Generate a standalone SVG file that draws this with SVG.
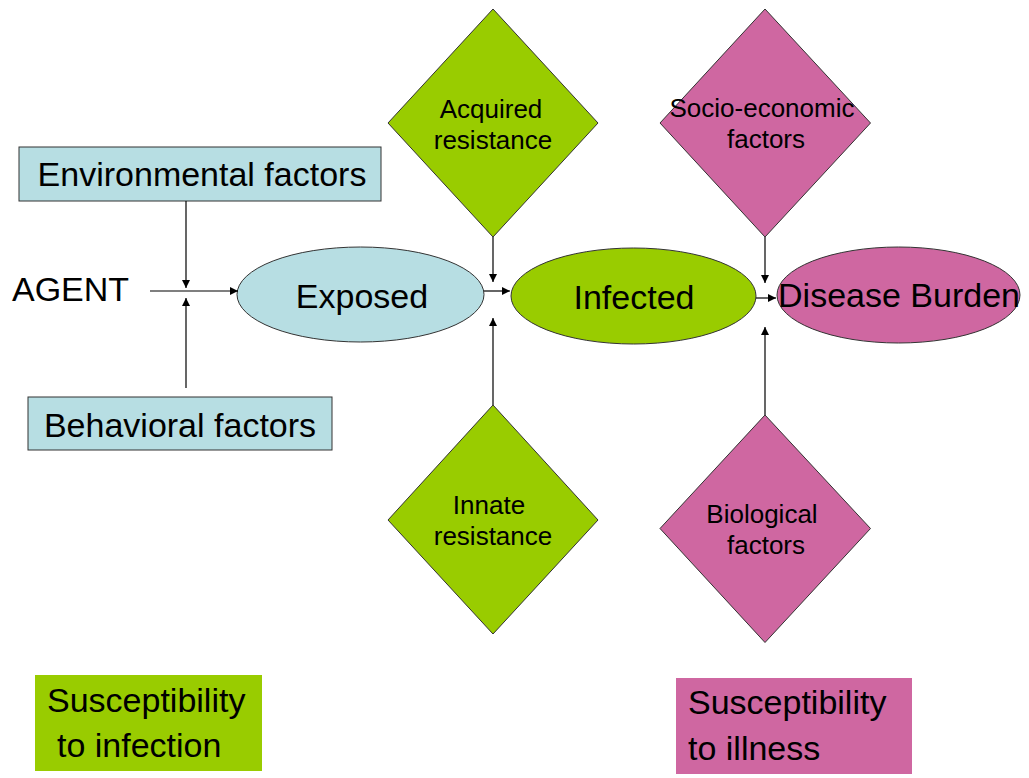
<svg xmlns="http://www.w3.org/2000/svg" width="1029" height="778" viewBox="0 0 1029 778">
<defs>
<marker id="ah" viewBox="0 0 10 10" refX="10" refY="5" markerWidth="9" markerHeight="8" markerUnits="userSpaceOnUse" orient="auto">
<path d="M0,0 L10,5 L0,10 z" fill="#000"/>
</marker>
<style>
text{font-family:"Liberation Sans",Arial,sans-serif;fill:#000}
.big{font-size:34px}
.mid{font-size:26px}
.blue{fill:#B7DEE3;stroke:#333;stroke-width:1}
.green{fill:#99CC00;stroke:#333;stroke-width:1}
.pink{fill:#CF67A1;stroke:#333;stroke-width:1}
.conn line{stroke:#000;stroke-width:1.2;marker-end:url(#ah)}
</style>
</defs>
<rect width="1029" height="778" fill="#fff"/>
<g id="environmental">
<rect class="blue" x="19" y="147" width="362" height="54"/>
<text class="big" x="202" y="186" text-anchor="middle">Environmental factors</text>
</g>
<g id="behavioral">
<rect class="blue" x="28" y="397" width="304" height="53"/>
<text class="big" x="180" y="437" text-anchor="middle">Behavioral factors</text>
</g>
<g id="agent">
<text class="big" x="12" y="301">AGENT</text>
</g>
<g id="exposed">
<ellipse class="blue" cx="360.5" cy="294.5" rx="123.5" ry="47.5"/>
<text class="big" x="362" y="308" text-anchor="middle">Exposed</text>
</g>
<g id="infected">
<ellipse class="green" cx="633.5" cy="296" rx="122.5" ry="48"/>
<text class="big" x="634" y="309" text-anchor="middle">Infected</text>
</g>
<g id="disease">
<ellipse class="pink" cx="898.5" cy="295" rx="121.5" ry="48"/>
<text class="big" x="899" y="307" text-anchor="middle">Disease Burden</text>
</g>
<g id="acquired">
<polygon class="green" points="493,9 598,123 493,237 388,123"/>
<text class="mid" x="491" y="118" text-anchor="middle">Acquired</text>
<text class="mid" x="493" y="149" text-anchor="middle">resistance</text>
</g>
<g id="innate">
<polygon class="green" points="493,405 598,520 493,634 388,520"/>
<text class="mid" x="489" y="514" text-anchor="middle">Innate</text>
<text class="mid" x="493" y="545" text-anchor="middle">resistance</text>
</g>
<g id="socio">
<polygon class="pink" points="765,9 870.5,123 765,237 660,123"/>
<text class="mid" x="762" y="117" text-anchor="middle">Socio-economic</text>
<text class="mid" x="766" y="148" text-anchor="middle">factors</text>
</g>
<g id="biological">
<polygon class="pink" points="765,415 870.5,528.5 765,642.5 660,528.5"/>
<text class="mid" x="762" y="523" text-anchor="middle">Biological</text>
<text class="mid" x="766" y="554" text-anchor="middle">factors</text>
</g>
<g id="susc-infection">
<rect x="35" y="675" width="227" height="96" fill="#99CC00"/>
<text class="big" x="47" y="712">Susceptibility</text>
<text class="big" x="57" y="757">to infection</text>
</g>
<g id="susc-illness">
<rect x="676" y="678" width="236" height="96" fill="#CF67A1"/>
<text class="big" x="688" y="714">Susceptibility</text>
<text class="big" x="688" y="760">to illness</text>
</g>
<g id="connectors" class="conn">
<line x1="150" y1="291" x2="238" y2="291"/>
<line x1="186" y1="201" x2="186" y2="288"/>
<line x1="186" y1="388" x2="186" y2="298"/>
<line x1="484" y1="291" x2="510" y2="291"/>
<line x1="493" y1="237" x2="493" y2="282"/>
<line x1="493" y1="405" x2="493" y2="318"/>
<line x1="756" y1="298" x2="776" y2="298"/>
<line x1="765" y1="237" x2="765" y2="283"/>
<line x1="765" y1="415" x2="765" y2="327"/>
</g>
</svg>
